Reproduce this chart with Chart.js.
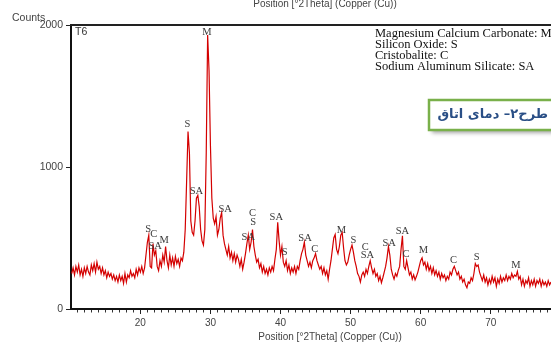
<!DOCTYPE html>
<html lang="fa">
<head>
<meta charset="UTF-8">
<title>XRD pattern T6</title>
<script src="https://cdn.jsdelivr.net/npm/chart.js"></script>
<style>
    body { margin: 0; background: #fff; }
    #wrap { position: relative; width: 551px; height: 343px; }
</style>
</head>
<body>
<div id="wrap"><canvas id="chart" width="551" height="343"></canvas></div>
<script>
// measured pattern, one reading every 0.2 deg 2theta
const startAngle = 10.2;
const angleStep = 0.2;
const counts = [
    250, 290, 240, 300, 260, 310, 240, 280, 230, 290,
    250, 300, 260, 240, 310, 270, 320, 260, 330, 280,
    300, 250, 290, 240, 270, 220, 260, 230, 250, 210,
    240, 200, 230, 190, 240, 200, 230, 180, 250, 190,
    240, 220, 270, 230, 250, 220, 280, 240, 290, 260,
    300, 250, 290, 380, 470, 520, 300, 290, 460, 380,
    410, 300, 270, 340, 300, 380, 330, 440, 340, 290,
    380, 310, 360, 300, 370, 320, 350, 300, 360, 340,
    400, 560, 900, 1250, 1100, 620, 540, 520, 620, 780,
    800, 720, 560, 480, 450, 560, 1100, 1930, 1680, 1150,
    780, 640, 600, 650, 520, 560, 640, 680, 520, 460,
    420, 380, 440, 360, 400, 340, 390, 330, 380, 350,
    300, 350, 280, 330, 390, 460, 520, 420, 470, 560,
    440, 380, 330, 350, 290, 320, 260, 300, 250, 280,
    240, 290, 260, 300, 270, 350, 420, 610, 480, 380,
    440, 330, 300, 340, 270, 310, 250, 290, 260, 300,
    250, 300, 280, 340, 390, 420, 470, 380, 340, 300,
    330, 290, 340, 360, 390, 340, 310, 280, 300, 250,
    290, 240, 270, 210, 280, 340, 420, 500, 525, 420,
    390, 440, 520, 540, 430, 340, 310, 330, 380, 420,
    450, 400, 340, 300, 250, 230, 190, 240, 260, 230,
    280, 250, 300, 340, 290, 250, 280, 230, 250, 200,
    230, 185, 220, 260, 300, 360, 440, 380, 280, 240,
    210, 250, 230, 270, 300, 420, 515, 300, 280, 340,
    290, 240, 260, 210, 240, 205, 230, 260, 300, 340,
    360, 310, 330, 280, 320, 270, 300, 250, 290, 240,
    270, 230, 260, 210, 250, 220, 240, 200, 230, 210,
    260, 240, 280, 300, 270, 240, 260, 210, 230, 190,
    210, 170, 150, 190, 180, 220, 200, 250, 320, 300,
    310, 260, 230, 200, 240, 190, 220, 170, 210, 180,
    230, 190, 220, 160, 210, 180, 230, 190, 220, 200,
    240, 200, 230, 210, 250, 220, 240, 230, 265, 210,
    230, 170, 210, 160, 200, 180, 220, 160, 200, 170,
    210, 160, 200, 180, 210, 160, 200, 170, 190, 160,
    200, 170, 190
];

// phase marks above the peaks
const peakNames   = ['M', 'S', 'SA', 'SA', 'S', 'C', 'SA', 'M', 'SA', 'C', 'S', 'SA', 'S',
                     'SA', 'C', 'M', 'S', 'C', 'SA', 'SA', 'SA', 'C', 'M', 'C', 'S', 'M'];
const peakAngles  = [29.5, 26.7, 28.0, 32.1, 21.1, 21.9, 22.1, 23.4, 35.4, 36.0, 36.1, 39.4, 40.6,
                     43.5, 44.9, 48.7, 50.4, 52.1, 52.4, 55.5, 57.4, 57.9, 60.4, 64.7, 68.0, 73.6];
const peakHeights = [1950, 1302, 831, 704, 561, 528, 444, 486, 505, 674, 612, 646, 403,
                     500, 422, 556, 481, 432, 378, 463, 549, 387, 415, 345, 364, 305];

const phaseLegend = [
    'Magnesium Calcium Carbonate: M',
    'Silicon Oxide: S',
    'Cristobalite: C',
    'Sodium Aluminum Silicate: SA'
];
const xTickValues = [20, 30, 40, 50, 60, 70];
const yTickValues = [0, 1000, 2000];
const axisTitle = 'Position [°2Theta] (Copper (Cu))';
const sampleName = 'T6';
const boxCaption = 'طرح۲– دمای اتاق';

const points = counts.map((c, i) => ({ x: +(startAngle + i * angleStep).toFixed(1), y: c }));

const extras = {
    id: 'extras',
    afterDraw(chart) {
        const ctx = chart.ctx;
        const area = chart.chartArea;
        const xs = chart.scales.x;
        const ys = chart.scales.y;
        ctx.save();

        // top frame line
        ctx.strokeStyle = '#222';
        ctx.lineWidth = 2;
        ctx.beginPath();
        ctx.moveTo(area.left - 1, area.top);
        ctx.lineTo(area.right, area.top);
        ctx.stroke();

        // minor ticks every degree
        ctx.lineWidth = 1;
        ctx.strokeStyle = '#333';
        ctx.beginPath();
        for (let v = Math.ceil(xs.min); v <= xs.max; v++) {
            if (v % 10 === 0) continue;
            const px = Math.round(xs.getPixelForValue(v)) + 0.5;
            ctx.moveTo(px, area.bottom + 1);
            ctx.lineTo(px, area.bottom + 3.5);
        }
        ctx.stroke();

        // axis texts
        ctx.fillStyle = '#444';
        ctx.font = '10px "Liberation Sans", Arial, sans-serif';
        ctx.textBaseline = 'middle';
        ctx.textAlign = 'center';
        ctx.fillText(axisTitle, 330, area.bottom + 28);
        ctx.fillText(axisTitle, 325, 4);
        ctx.textAlign = 'left';
        ctx.font = '10.5px "Liberation Sans", Arial, sans-serif';
        ctx.fillText('Counts', 12, 18);
        ctx.fillStyle = '#333';
        ctx.fillText(sampleName, area.left + 4, area.top + 7);

        // phase labels
        ctx.fillStyle = '#3a3a3a';
        ctx.font = '10.5px "Liberation Serif", "Times New Roman", serif';
        ctx.textAlign = 'center';
        peakNames.forEach((n, i) => {
            ctx.fillText(n, xs.getPixelForValue(peakAngles[i]), ys.getPixelForValue(peakHeights[i]));
        });

        // phase legend
        ctx.fillStyle = '#111';
        ctx.font = '12.5px "Liberation Serif", "Times New Roman", serif';
        ctx.textAlign = 'left';
        phaseLegend.forEach((t, i) => ctx.fillText(t, 375, 33.5 + i * 11.2));

        // caption box
        ctx.shadowColor = 'rgba(0,0,0,0.35)';
        ctx.shadowOffsetX = 3;
        ctx.shadowOffsetY = 3;
        ctx.shadowBlur = 4;
        ctx.fillStyle = '#fff';
        ctx.fillRect(429, 100, 140, 30);
        ctx.shadowColor = 'transparent';
        ctx.strokeStyle = '#79b04a';
        ctx.lineWidth = 2.5;
        ctx.strokeRect(429, 100, 140, 30);
        ctx.fillStyle = '#2a4f86';
        ctx.font = 'bold 13px "DejaVu Sans", sans-serif';
        ctx.direction = 'rtl';
        ctx.textAlign = 'right';
        ctx.fillText(boxCaption, 548, 115);
        ctx.restore();
    }
};

new Chart(document.getElementById('chart'), {
    type: 'line',
    data: {
        datasets: [{
            data: points,
            borderColor: '#d40000',
            borderWidth: 1.2,
            pointRadius: 0,
            tension: 0
        }]
    },
    options: {
        responsive: false,
        animation: false,
        layout: { padding: { top: 25, left: 0, right: 0, bottom: 0 } },
        plugins: { legend: { display: false }, tooltip: { enabled: false } },
        scales: {
            x: {
                type: 'linear',
                min: 10.1,
                max: 78.6,
                afterFit: s => { s.height = 34; },
                afterBuildTicks: s => { s.ticks = xTickValues.map(v => ({ value: v })); },
                ticks: { color: '#444', font: { size: 10, family: '"Liberation Sans", Arial' }, padding: 3, maxRotation: 0, autoSkip: false, callback: v => String(v) },
                grid: { drawOnChartArea: false, tickLength: 5, tickColor: '#222' },
                border: { color: '#111', width: 2 }
            },
            y: {
                min: 0,
                max: 2000,
                afterFit: s => { s.width = 71; },
                afterBuildTicks: s => { s.ticks = yTickValues.map(v => ({ value: v })); },
                ticks: { color: '#444', font: { size: 10.5, family: '"Liberation Sans", Arial' }, padding: 3, callback: v => String(v) },
                grid: { drawOnChartArea: false, tickLength: 5, tickColor: '#222' },
                border: { color: '#111', width: 2 }
            }
        }
    },
    plugins: [extras]
});
</script>
</body>
</html>
